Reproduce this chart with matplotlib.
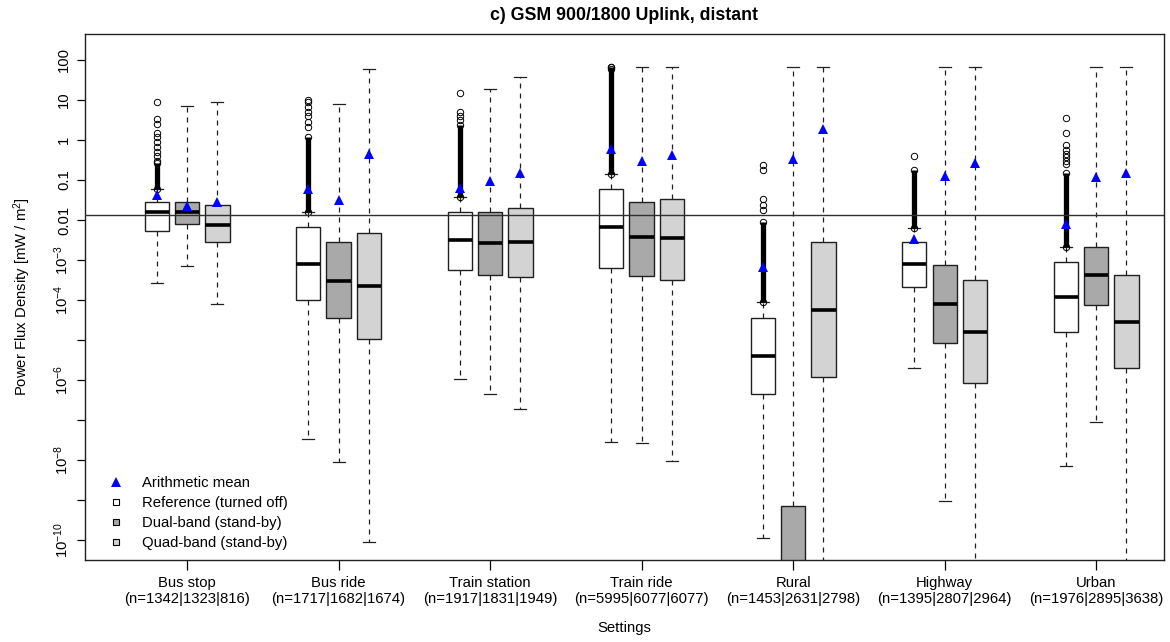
import numpy as np
import matplotlib
matplotlib.use('Agg')
import matplotlib.pyplot as plt
from matplotlib.lines import Line2D

plt.rcParams['font.family'] = ['Liberation Sans', 'DejaVu Sans']
plt.rcParams['mathtext.fontset'] = 'custom'
plt.rcParams['mathtext.rm'] = 'Liberation Sans'
plt.rcParams['mathtext.it'] = 'Liberation Sans:italic'
plt.rcParams['mathtext.bf'] = 'Liberation Sans:bold'

# ---------------- data (mW/m^2) ----------------
settings = ['Bus stop', 'Bus ride', 'Train station', 'Train ride', 'Rural', 'Highway', 'Urban']
n_counts = ['1342|1323|816', '1717|1682|1674', '1917|1831|1949', '5995|6077|6077',
            '1453|2631|2798', '1395|2807|2964', '1976|2895|3638']
series_names = ['Reference (turned off)', 'Dual-band (stand-by)', 'Quad-band (stand-by)']
series_colors = ['#FFFFFF', '#A9A9A9', '#D3D3D3']

ref_whislo = [2.6e-4, 3.3e-8, 1.05e-6, 2.9e-8, 1.1e-10, 2.0e-6, 7.2e-9]
ref_q1 = [5.3e-3, 1.0e-4, 5.6e-4, 6.2e-4, 4.4e-7, 2.1e-4, 1.6e-5]
ref_med = [0.0158, 7.9e-4, 3.1e-3, 6.5e-3, 3.9e-6, 7.9e-4, 1.2e-4]
ref_q3 = [0.0277, 6.5e-3, 0.0158, 0.059, 3.5e-5, 2.75e-3, 8.9e-4]
ref_whishi = [0.059, 0.0158, 0.038, 0.14, 8.7e-5, 6.2e-3, 2.1e-3]
ref_mean = [0.041, 0.059, 0.062, 0.6, 6.6e-4, 3.35e-3, 7.9e-3]
ref_dense_hi = [0.26, 1.2, 2.4, 65, 9.1e-3, 0.18, 0.15]
ref_sparse = [[0.3, 0.4, 0.49, 0.68, 0.91, 1.2, 1.5, 2.5, 3.3, 8.7],
              [2.1, 2.9, 4.0, 5.1, 6.8, 9.1, 10],
              [3.2, 4.0, 5.1, 14.7],
              [60, 65],
              [0.018, 0.024, 0.033, 0.18, 0.24],
              [0.4],
              [0.25, 0.3, 0.38, 0.45, 0.55, 0.75, 1.5, 3.5]]

dual_whislo = [7.1e-4, 8.9e-9, 4.4e-7, 2.6e-8, 1e-12, 9.3e-10, 8.9e-8]
dual_q1 = [7.9e-3, 3.5e-5, 4.2e-4, 4.0e-4, 5e-12, 8.3e-6, 7.4e-5]
dual_med = [0.0158, 3.0e-4, 2.6e-3, 3.8e-3, 1e-11, 7.8e-5, 4.1e-4]
dual_q3 = [0.0277, 2.75e-3, 0.0158, 0.0275, 6.9e-10, 7.5e-4, 2.1e-3]
dual_whishi = [6.9, 7.9, 19, 67, 67, 67, 67]
dual_mean = [0.023, 0.032, 0.095, 0.3, 0.34, 0.126, 0.12]

quad_whislo = [7.8e-5, 8.7e-11, 1.9e-7, 9.3e-9, 1e-12, 1e-12, 1e-12]
quad_q1 = [2.75e-3, 1.05e-5, 3.7e-4, 3.2e-4, 1.2e-6, 8.5e-7, 2.0e-6]
quad_med = [7.5e-3, 2.2e-4, 2.75e-3, 3.6e-3, 5.6e-5, 1.6e-5, 2.9e-5]
quad_q3 = [0.0237, 4.7e-3, 0.0195, 0.033, 2.75e-3, 3.1e-4, 4.3e-4]
quad_whishi = [8.9, 60, 38, 67, 67, 67, 67]
quad_mean = [0.029, 0.45, 0.148, 0.43, 1.9, 0.26, 0.148]

ref_line = 0.0133

# ---------------- figure ----------------
W, H = 1170, 642
fig = plt.figure(figsize=(W / 100, H / 100), dpi=100)
ax = fig.add_axes([85 / W, 1 - 560 / H, (1164 - 85) / W, (560 - 34) / H])
ax.set_yscale('log')

FS = 10.7
all_series = [
    (ref_whislo, ref_q1, ref_med, ref_q3, ref_whishi, ref_mean),
    (dual_whislo, dual_q1, dual_med, dual_q3, dual_whishi, dual_mean),
    (quad_whislo, quad_q1, quad_med, quad_q3, quad_whishi, quad_mean),
]
group_pos = np.arange(len(settings)) * 5 + 2

for s, (lo, q1, med, q3, hi, mn) in enumerate(all_series):
    pos = group_pos + (s - 1)
    stats = []
    for g in range(len(settings)):
        stats.append(dict(whislo=lo[g], q1=q1[g], med=med[g], q3=q3[g], whishi=hi[g],
                          fliers=ref_sparse[g] if s == 0 else []))
    ax.bxp(stats, positions=pos, widths=0.8, capwidths=0.4, patch_artist=True,
           showmeans=False, manage_ticks=False,
           boxprops=dict(facecolor=series_colors[s], edgecolor='#202020', linewidth=1.0),
           medianprops=dict(color='black', linewidth=2.6, solid_capstyle='butt'),
           whiskerprops=dict(color='#202020', linewidth=0.9, linestyle=(0, (4, 4))),
           capprops=dict(color='#202020', linewidth=0.9),
           flierprops=dict(marker='o', markerfacecolor='none', markeredgecolor='black',
                           markersize=4.6, markeredgewidth=0.7))
    if s == 0:
        ax.vlines(pos, ref_whishi, ref_dense_hi, colors='black', linewidth=3.8, zorder=3)
        ax.plot(pos, ref_whishi, linestyle='none', marker='o', mfc='none', mec='black',
                ms=4.6, mew=0.7, zorder=3)
        ax.plot(pos, ref_dense_hi, linestyle='none', marker='o', mfc='none', mec='black',
                ms=4.6, mew=0.7, zorder=3)
    ax.plot(pos, mn, linestyle='none', marker='^', color='#0000FF', ms=7, mew=0, zorder=6)

ax.axhline(ref_line, color='#303030', linewidth=1.0, zorder=5)

ax.set_xlim(-1.37, 34.24)
ax.set_ylim(10 ** -10.5, 10 ** 2.65)

ytick_vals = [10.0 ** k for k in range(-10, 3)]
ytick_labels = []
for k in range(-10, 3):
    if k >= -2:
        ytick_labels.append({2: '100', 1: '10', 0: '1', -1: '0.1', -2: '0.01'}[k])
    elif k in (-5, -7, -9):
        ytick_labels.append('')
    else:
        ytick_labels.append(r'$10^{%d}$' % k)
ax.set_yticks(ytick_vals)
ax.set_yticklabels(ytick_labels)
ax.yaxis.set_minor_locator(matplotlib.ticker.NullLocator())
ax.tick_params(axis='y', labelrotation=90, labelsize=FS, length=6, width=0.9, pad=4)
for t in ax.get_yticklabels():
    t.set_va('center')

ax.set_xticks(group_pos)
ax.set_xticklabels(['%s\n(n=%s)' % (a, b) for a, b in zip(settings, n_counts)],
                   fontsize=FS, linespacing=1.2)
ax.tick_params(axis='x', length=7, width=0.9, pad=4.5)

for sp in ax.spines.values():
    sp.set_linewidth(1.0)
    sp.set_color('#202020')

fig.text(624.5 / W, 1 - 15 / H, 'c) GSM 900/1800 Uplink, distant', ha='center', va='center',
         fontsize=12.8, fontweight='bold')
fig.text(624.5 / W, 1 - 628 / H, 'Settings', ha='center', va='center', fontsize=FS)
fig.text(22 / W, 1 - 297 / H, r'Power Flux Density [mW / m$^2$]', ha='center', va='center',
         rotation=90, fontsize=FS)

handles = [
    Line2D([], [], linestyle='none', marker='^', color='#0000FF', ms=7, mew=0),
    Line2D([], [], linestyle='none', marker='s', mfc=series_colors[0], mec='black', ms=5, mew=0.8),
    Line2D([], [], linestyle='none', marker='s', mfc=series_colors[1], mec='black', ms=5, mew=0.8),
    Line2D([], [], linestyle='none', marker='s', mfc=series_colors[2], mec='black', ms=5, mew=0.8),
]
ax.legend(handles, ['Arithmetic mean'] + series_names, loc='upper left',
          bbox_to_anchor=((109 - 85) / 1079, (560 - 476) / 526), frameon=False,
          fontsize=FS, handlelength=1.0, handletextpad=1.25, labelspacing=0.4,
          borderpad=0, borderaxespad=0)

fig.savefig('out.png', dpi=100)
